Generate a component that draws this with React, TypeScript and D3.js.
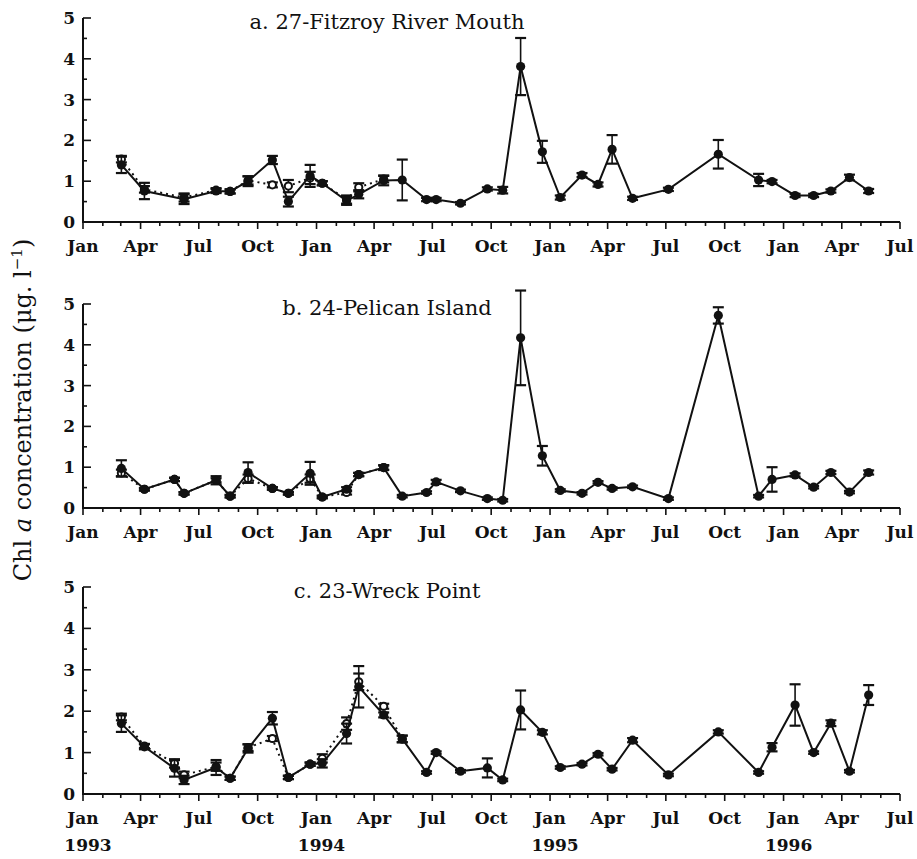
import React from "react";
import * as d3 from "d3";

// ---- sampling dates (shared by all three stations) ----
const sampleDates = [
  "1993-03-02", "1993-04-07", "1993-05-24", "1993-06-08", "1993-07-28", "1993-08-19",
  "1993-09-16", "1993-10-24", "1993-11-18", "1993-12-22", "1994-01-10", "1994-02-17",
  "1994-03-08", "1994-04-16", "1994-05-15", "1994-06-22", "1994-07-07", "1994-08-14",
  "1994-09-25", "1994-10-19", "1994-11-16", "1994-12-20", "1995-01-17", "1995-02-20",
  "1995-03-17", "1995-04-08", "1995-05-10", "1995-07-05", "1995-09-21", "1995-11-23",
  "1995-12-14", "1996-01-19", "1996-02-17", "1996-03-15", "1996-04-13", "1996-05-13",
];

// ---- a. 27-Fitzroy River Mouth ----
const fitzroyMain = [1.40, 0.76, null, 0.56, 0.76, 0.75, 1.0, 1.52, 0.50, 1.13, 0.95, 0.52, 0.68, 1.02, 1.03, 0.55, 0.55, 0.46, 0.81, 0.78, 3.81, 1.72, 0.60, 1.15, 0.92, 1.78, 0.58, 0.80, 1.66, 1.03, 0.99, 0.65, 0.65, 0.76, 1.09, 0.76];
const fitzroyMainErr = [0.2, 0.2, null, 0.12, 0.05, 0.05, 0.12, 0.1, 0.12, 0.27, 0.05, 0.1, 0.1, 0.12, 0.5, 0.04, 0.04, 0.03, 0.04, 0.08, 0.7, 0.27, 0.05, 0.05, 0.05, 0.35, 0.04, 0.04, 0.35, 0.15, 0.04, 0.04, 0.04, 0.04, 0.07, 0.05];
const fitzroyRep = [1.54, 0.80, null, 0.60, 0.78, 0.75, 1.02, 0.91, 0.88, 1.08, 0.95, 0.55, 0.85, 1.05];
const fitzroyRepErr = [0.08, 0.08, null, 0.1, 0.05, 0.05, 0.1, 0.06, 0.15, 0.15, 0.05, 0.1, 0.1, 0.08];

// ---- b. 24-Pelican Island ----
const pelicanMain = [0.97, 0.46, 0.70, 0.36, 0.68, 0.29, 0.87, 0.48, 0.36, 0.85, 0.27, 0.46, 0.82, 0.99, 0.29, 0.38, 0.64, 0.42, 0.23, 0.19, 4.17, 1.28, 0.43, 0.36, 0.63, 0.48, 0.52, 0.23, 4.72, 0.29, 0.70, 0.81, 0.51, 0.87, 0.39, 0.87];
const pelicanMainErr = [0.2, 0.03, 0.04, 0.03, 0.1, 0.03, 0.25, 0.03, 0.03, 0.28, 0.03, 0.05, 0.04, 0.06, 0.03, 0.03, 0.05, 0.03, 0.03, 0.03, 1.16, 0.24, 0.03, 0.03, 0.03, 0.03, 0.03, 0.03, 0.2, 0.03, 0.3, 0.04, 0.03, 0.04, 0.03, 0.05];
const pelicanRep = [0.86, 0.46, 0.70, 0.36, 0.68, 0.29, 0.72, 0.48, 0.36, 0.72, 0.27, 0.38, 0.82, 0.99];
const pelicanRepErr = [0.08, 0.03, 0.04, 0.03, 0.05, 0.03, 0.1, 0.03, 0.03, 0.1, 0.03, 0.05, 0.04, 0.05];

// ---- c. 23-Wreck Point ----
const wreckMain = [1.70, 1.14, 0.62, 0.34, 0.64, 0.38, 1.10, 1.83, 0.40, 0.72, 0.74, 1.46, 2.59, 1.91, 1.33, 0.52, 1.00, 0.55, 0.63, 0.34, 2.03, 1.49, 0.64, 0.72, 0.96, 0.60, 1.30, 0.46, 1.50, 0.52, 1.13, 2.15, 1.00, 1.71, 0.55, 2.39];
const wreckMainErr = [0.2, 0.06, 0.2, 0.1, 0.18, 0.04, 0.1, 0.15, 0.04, 0.04, 0.1, 0.24, 0.5, 0.06, 0.08, 0.03, 0.03, 0.03, 0.23, 0.03, 0.47, 0.05, 0.03, 0.03, 0.03, 0.03, 0.05, 0.03, 0.04, 0.03, 0.1, 0.5, 0.03, 0.07, 0.03, 0.24];
const wreckRep = [1.86, 1.16, 0.74, 0.46, 0.66, 0.38, 1.12, 1.34, 0.40, 0.72, 0.86, 1.70, 2.71, 2.12, 1.33];
const wreckRepErr = [0.08, 0.05, 0.1, 0.08, 0.1, 0.04, 0.08, 0.06, 0.04, 0.04, 0.1, 0.15, 0.2, 0.06, 0.08];

const panelTitles = ["a. 27-Fitzroy River Mouth", "b. 24-Pelican Island", "c. 23-Wreck Point"];
const quarterLabels = ["Jan", "Apr", "Jul", "Oct"];
const yearLabels = ["1993", "1994", "1995", "1996"];
const yTickValues = [0, 1, 2, 3, 4, 5];

// ---- layout ----
const W = 917;
const H = 859;
const X0 = 83;
const X1 = 900;
const panelBoxes = [
  { top: 18, bottom: 222 },
  { top: 304, bottom: 508 },
  { top: 587, bottom: 794 },
];
const FONT = "'DejaVu Serif', 'Liberation Serif', serif";

const parse = d3.timeParse("%Y-%m-%d");
const dates = sampleDates.map((s) => parse(s) as Date);

const x = d3
  .scaleTime()
  .domain([new Date(1993, 0, 1), new Date(1996, 6, 1)])
  .range([X0, X1]);

type Pt = { d: Date; v: number; e: number | null };

function toPoints(vals: (number | null)[], errs: (number | null)[]): Pt[] {
  const out: Pt[] = [];
  vals.forEach((v, i) => {
    if (v !== null && v !== undefined) out.push({ d: dates[i], v, e: errs[i] ?? null });
  });
  return out;
}

const series = [
  { main: toPoints(fitzroyMain, fitzroyMainErr), rep: toPoints(fitzroyRep, fitzroyRepErr) },
  { main: toPoints(pelicanMain, pelicanMainErr), rep: toPoints(pelicanRep, pelicanRepErr) },
  { main: toPoints(wreckMain, wreckMainErr), rep: toPoints(wreckRep, wreckRepErr) },
];

function ErrorBars({ pts, y }: { pts: Pt[]; y: d3.ScaleLinear<number, number> }) {
  const cap = 5.5;
  return (
    <g stroke="#111" strokeWidth={1.6}>
      {pts
        .filter((p) => p.e !== null && (p.e as number) > 0)
        .map((p, i) => {
          const cx = x(p.d);
          const yt = y(p.v + (p.e as number));
          const yb = y(p.v - (p.e as number));
          return (
            <g key={i}>
              <line x1={cx} x2={cx} y1={yt} y2={yb} />
              <line x1={cx - cap} x2={cx + cap} y1={yt} y2={yt} strokeWidth={2.2} />
              <line x1={cx - cap} x2={cx + cap} y1={yb} y2={yb} strokeWidth={2.2} />
            </g>
          );
        })}
    </g>
  );
}

function Panel({ idx }: { idx: number }) {
  const box = panelBoxes[idx];
  const y = d3.scaleLinear().domain([0, 5]).range([box.bottom, box.top]);
  const line = d3
    .line<Pt>()
    .x((p) => x(p.d))
    .y((p) => y(p.v));
  const { main, rep } = series[idx];
  const months = d3.timeMonth.range(new Date(1993, 0, 1), new Date(1996, 6, 2));
  const minorY = d3.range(0, 5.01, 0.5);
  return (
    <g>
      {/* axes */}
      <line x1={X0} x2={X0} y1={box.bottom + 1} y2={box.top} stroke="#111" strokeWidth={2} />
      <line x1={X0 - 1} x2={X1} y1={box.bottom} y2={box.bottom} stroke="#111" strokeWidth={2} />
      {minorY.map((v) => {
        const major = Math.abs(v - Math.round(v)) < 1e-6;
        return (
          <line key={v} x1={X0} x2={X0 + (major ? 8 : 4)} y1={y(v)} y2={y(v)} stroke="#111" strokeWidth={1.6} />
        );
      })}
      {yTickValues.map((v) => (
        <text key={v} x={75} y={y(v) + 6} textAnchor="end" fontFamily={FONT} fontWeight="bold" fontSize={17} fill="#111">
          {v}
        </text>
      ))}
      {months.map((m, i) => {
        const major = m.getMonth() % 3 === 0;
        return (
          <line key={i} x1={x(m)} x2={x(m)} y1={box.bottom} y2={box.bottom + (major ? 7 : 4)} stroke="#111" strokeWidth={1.6} />
        );
      })}
      {months
        .filter((m) => m.getMonth() % 3 === 0)
        .map((m, i) => (
          <text key={i} x={x(m)} y={box.bottom + 30} textAnchor="middle" fontFamily={FONT} fontWeight="bold" fontSize={17} fill="#111">
            {quarterLabels[m.getMonth() / 3]}
          </text>
        ))}
      {idx === 2 &&
        yearLabels.map((yl, i) => (
          <text key={yl} x={x(new Date(1993 + i, 0, 1)) + 5} y={box.bottom + 57} textAnchor="middle" fontFamily={FONT} fontWeight="bold" fontSize={17} fill="#111">
            {yl}
          </text>
        ))}
      <text x={387} y={box.top + 11} textAnchor="middle" fontFamily={FONT} fontSize={21} fill="#111">
        {panelTitles[idx]}
      </text>

      {/* replicate (dotted) series */}
      <path d={line(rep) || ""} fill="none" stroke="#111" strokeWidth={2} strokeDasharray="2,4" />
      <ErrorBars pts={rep} y={y} />
      {rep.map((p, i) => (
        <circle key={i} cx={x(p.d)} cy={y(p.v)} r={3.6} fill="#fff" stroke="#111" strokeWidth={2} />
      ))}

      {/* main (solid) series */}
      <path d={line(main) || ""} fill="none" stroke="#111" strokeWidth={2} />
      <ErrorBars pts={main} y={y} />
      {main.map((p, i) => (
        <circle key={i} cx={x(p.d)} cy={y(p.v)} r={4.6} fill="#111" />
      ))}
    </g>
  );
}

export default function App() {
  const yLabelCx = 31;
  const yLabelCy = 410;
  return (
    <svg
      width={W}
      height={H}
      viewBox={`0 0 ${W} ${H}`}
      style={{ position: "absolute", left: 0, top: 0, background: "#fff" }}
    >
      <rect width={W} height={H} fill="#fff" />
      {[0, 1, 2].map((i) => (
        <Panel key={i} idx={i} />
      ))}
      <text
        transform={`translate(${yLabelCx},${yLabelCy}) rotate(-90)`}
        textAnchor="middle"
        fontFamily={FONT}
        fontSize={24}
        fill="#111"
      >
        Chl <tspan fontStyle="italic">a</tspan> concentration (μg. l
        <tspan dy={-9} fontSize={15}>−1</tspan>
        <tspan dy={9}>)</tspan>
      </text>
    </svg>
  );
}
